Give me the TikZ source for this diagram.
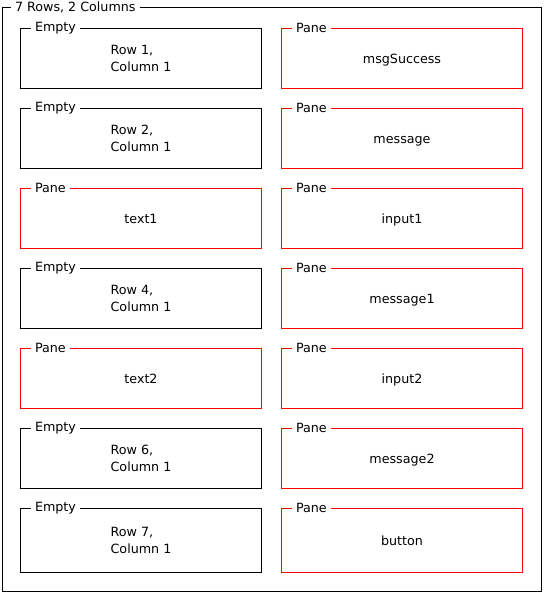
\documentclass[tikz,border=0pt]{standalone}
\usepackage{fontspec}
\setmainfont{DejaVu Sans}
\usepackage{tikz}
\usetikzlibrary{positioning}

\begin{document}
\begin{tikzpicture}
	[x=1pt,y=-1pt,line width=1pt,
	 every node/.style={font=\fontsize{12.7}{16.5}\selectfont},
	 emptybox/.style={draw=black,anchor=north west,minimum width=241pt,minimum height=60pt,inner sep=0pt,align=left},
	 panebox/.style={emptybox,draw=red,text height=10.6pt,text depth=0pt},
	 boxtitle/.style={fill=white,anchor=west,inner xsep=4.5pt,inner ysep=1pt}]
	\useasboundingbox (0,0) rectangle (543,593);
	\node[draw=black,anchor=north west,minimum width=539pt,minimum height=584pt,inner sep=0pt] (frame) at (2,7) {};
	\node[boxtitle] (frametitle) at ([xshift=8pt]frame.north west) {7 Rows, 2 Columns};
	% left column
	\node[emptybox] (r1c1) at (20,28) {Row 1,\\Column 1};
	\node[emptybox] (r2c1) at (20,108) {Row 2,\\Column 1};
	\node[panebox] (r3c1) at (20,188) {text1};
	\node[emptybox] (r4c1) at (20,268) {Row 4,\\Column 1};
	\node[panebox] (r5c1) at (20,348) {text2};
	\node[emptybox] (r6c1) at (20,428) {Row 6,\\Column 1};
	\node[emptybox,minimum height=64pt] (r7c1) at (20,508) {Row 7,\\Column 1};
	% right column
	\node[panebox] (r1c2) at (281,28) {msgSuccess};
	\node[panebox] (r2c2) at (281,108) {message};
	\node[panebox] (r3c2) at (281,188) {input1};
	\node[panebox] (r4c2) at (281,268) {message1};
	\node[panebox] (r5c2) at (281,348) {input2};
	\node[panebox] (r6c2) at (281,428) {message2};
	\node[panebox,minimum height=64pt] (r7c2) at (281,508) {button};
	% titles
	\node[boxtitle] (r1c1title) at ([xshift=10pt]r1c1.north west) {Empty};
	\node[boxtitle] (r2c1title) at ([xshift=10pt]r2c1.north west) {Empty};
	\node[boxtitle] (r3c1title) at ([xshift=10pt]r3c1.north west) {Pane};
	\node[boxtitle] (r4c1title) at ([xshift=10pt]r4c1.north west) {Empty};
	\node[boxtitle] (r5c1title) at ([xshift=10pt]r5c1.north west) {Pane};
	\node[boxtitle] (r6c1title) at ([xshift=10pt]r6c1.north west) {Empty};
	\node[boxtitle] (r7c1title) at ([xshift=10pt]r7c1.north west) {Empty};
	\node[boxtitle] (r1c2title) at ([xshift=10pt]r1c2.north west) {Pane};
	\node[boxtitle] (r2c2title) at ([xshift=10pt]r2c2.north west) {Pane};
	\node[boxtitle] (r3c2title) at ([xshift=10pt]r3c2.north west) {Pane};
	\node[boxtitle] (r4c2title) at ([xshift=10pt]r4c2.north west) {Pane};
	\node[boxtitle] (r5c2title) at ([xshift=10pt]r5c2.north west) {Pane};
	\node[boxtitle] (r6c2title) at ([xshift=10pt]r6c2.north west) {Pane};
	\node[boxtitle] (r7c2title) at ([xshift=10pt]r7c2.north west) {Pane};
\end{tikzpicture}
\end{document}
